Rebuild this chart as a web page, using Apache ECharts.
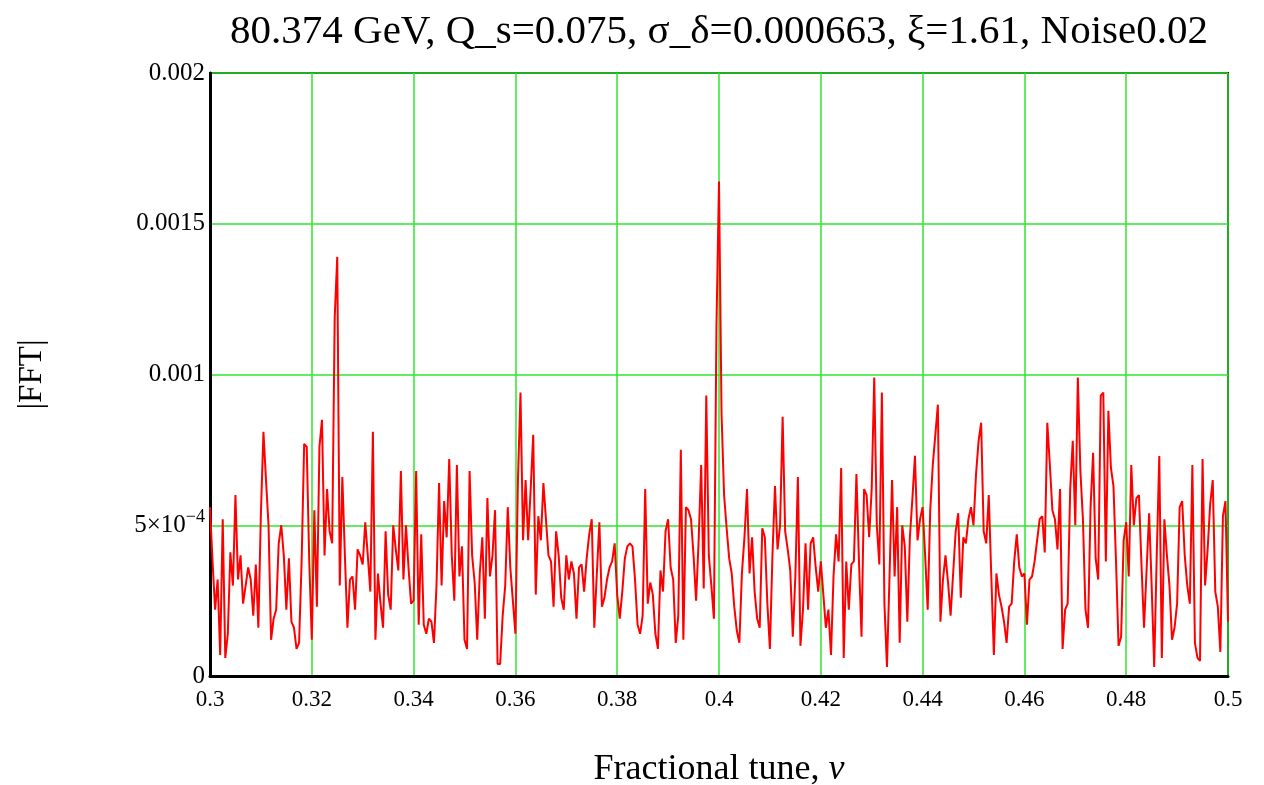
<!DOCTYPE html>
<html>
<head>
<meta charset="utf-8">
<script src="https://cdn.jsdelivr.net/npm/echarts@6/dist/echarts.min.js"></script>
<style>
html,body{margin:0;padding:0;background:#fff;}
#chart{width:1264px;height:785px;}
</style>
</head>
<body>
<div id="chart"></div>
<script>
const tuneStart = 0.3;
const tuneStep = 0.0005;
const fftSeg0 = [5.6,3.8,2.2,3.2,0.7,5.2,0.6,1.4,4.1,3.0,6.0,3.2,4.0,2.4,3.0,3.6,3.2,2.0,3.7,1.6,5.4,8.1,6.5,5.0,1.2,1.9,2.2,4.4,5.0,4.0,2.2,3.9,1.8,1.6,0.9,1.1,3.8,7.7,7.6,3.8];
const fftSeg1 = [1.2,5.5,2.3,7.6,8.5,4.0,6.2,4.8,4.4,11.9,13.9,3.0,6.6,4.0,1.6,3.2,3.3,2.2,4.2,4.0,3.7,5.1,4.0,2.8,8.1,1.2,3.4,2.4,1.6,4.8,2.7,2.2,5.0,4.2,3.5,6.8,3.2,5.0,3.6,2.4];
const fftSeg2 = [2.5,6.8,1.7,4.7,1.7,1.4,1.9,1.8,1.1,3.0,6.4,3.0,5.8,4.6,7.2,4.0,2.5,7.0,3.3,4.3,1.2,0.9,6.8,4.0,3.1,1.2,3.4,4.6,1.9,5.9,3.3,4.0,5.5,0.4,0.4,2.0,3.0,5.6,3.6,2.5];
const fftSeg3 = [1.4,6.5,9.4,4.5,6.5,4.5,6.2,8.0,2.7,5.3,4.5,6.4,5.2,4.0,3.8,2.3,4.8,4.0,2.6,2.2,4.0,3.2,3.8,3.4,1.9,3.6,3.7,2.8,3.9,4.7,5.2,1.6,3.4,5.1,2.3,2.6,3.2,3.6,3.8,4.4];
const fftSeg4 = [2.7,1.9,2.8,3.9,4.3,4.4,4.3,3.2,1.7,1.4,2.0,6.2,2.4,3.1,2.7,1.4,0.9,3.5,2.8,4.8,5.2,3.6,3.2,1.1,2.0,7.5,1.2,5.6,5.5,5.2,4.0,2.5,4.5,7.0,2.9,9.3,4.0,3.0,1.9,11.6];
const fftSeg5 = [16.4,8.7,6.0,4.9,3.9,3.4,2.3,1.5,1.1,3.4,4.6,6.2,3.4,4.6,2.8,1.9,1.6,4.9,4.6,2.4,0.9,4.0,6.3,4.2,5.0,8.6,4.8,4.2,3.5,1.3,3.3,6.6,1.0,2.2,4.4,2.2,4.4,4.6,3.6,2.8];
const fftSeg6 = [3.8,2.7,1.6,2.2,0.7,3.3,4.7,3.8,6.9,0.6,3.8,2.2,3.7,3.8,6.7,3.8,1.3,6.2,6.0,4.6,6.2,9.9,5.0,3.7,9.4,2.4,0.3,3.3,6.5,3.3,5.6,1.1,5.0,4.3,1.8,4.6,5.9,7.3,4.5,5.2];
const fftSeg7 = [5.6,4.0,2.2,5.5,7.0,8.0,9.0,1.8,3.2,4.0,3.1,2.0,3.4,4.8,5.4,2.6,4.6,4.4,5.2,5.6,5.0,6.7,7.8,8.4,4.8,4.4,6.0,3.3,0.7,3.4,2.7,2.3,1.8,1.1,2.3,2.4,3.8,4.7,3.6,3.3];
const fftSeg8 = [3.4,1.7,3.2,3.3,3.8,4.5,5.2,5.3,4.1,8.4,7.0,5.5,5.2,4.2,6.2,0.9,2.2,2.4,6.2,7.8,5.0,9.9,6.8,5.2,2.2,1.6,5.6,7.4,3.9,3.2,9.3,9.4,3.8,8.8,6.9,6.3,3.8,1.0,1.3,4.5];
const fftSeg9 = [5.1,3.3,7.0,5.0,5.9,6.0,3.7,1.6,3.5,5.4,3.0,0.3,4.0,7.3,0.6,5.2,4.0,3.0,1.2,1.6,2.4,5.6,5.8,4.0,3.0,2.4,7.0,1.1,0.6,0.5,7.2,3.0,4.2,5.7,6.5,2.8,2.3,0.8,5.3,5.8,1.8];

const xTicks = [0.3,0.32,0.34,0.36,0.38,0.4,0.42,0.44,0.46,0.48,0.5];
const yTickLabels = {0:'0', 1:'{a|5×10}{s|−4}', 2:'0.001', 3:'0.0015', 4:'0.002'};

const titleText = '80.374 GeV, Q_s=0.075, σ_δ=0.000663, ξ=1.61, Noise0.02';

const allVals = [].concat(fftSeg0,fftSeg1,fftSeg2,fftSeg3,fftSeg4,fftSeg5,fftSeg6,fftSeg7,fftSeg8,fftSeg9);
const seriesData = allVals.map((v,i)=>[+(tuneStart + tuneStep*i).toFixed(4), v*1e-4]);

const SERIF = '"Liberation Serif","DejaVu Serif",serif';
const chart = echarts.init(document.getElementById('chart'));
chart.setOption({
  animation:false,
  backgroundColor:'#fff',
  title:{
    text:titleText,
    left:714, top:7, textAlign:'center',
    textStyle:{fontFamily:SERIF,fontSize:41,fontWeight:'normal',color:'#000'}
  },
  grid:{left:210,right:36,top:73,bottom:109,show:true,borderColor:'#000',borderWidth:2,
    backgroundColor:'transparent',containLabel:false,outerBoundsMode:'none'},
  xAxis:{
    type:'value',min:0.3,max:0.5,interval:0.02,
    name:'{n|Fractional tune, }{i|ν}',
    nameLocation:'middle',nameGap:76,
    nameTextStyle:{rich:{
      n:{fontFamily:SERIF,fontSize:36,color:'#000'},
      i:{fontFamily:SERIF,fontSize:36,fontStyle:'italic',color:'#000'}
    }},
    axisLine:{show:true,onZero:false,lineStyle:{color:'#000',width:3}},
    axisTick:{show:false},
    axisLabel:{fontFamily:SERIF,fontSize:23,color:'#000',margin:12,
      formatter:v=>String(+v.toFixed(2))},
    splitLine:{show:true,lineStyle:{color:'#2ee62e',width:1.5}}
  },
  yAxis:{
    type:'value',min:0,max:0.002,interval:0.0005,
    name:'|FFT|',nameLocation:'middle',nameGap:161,nameRotate:90,
    nameTextStyle:{fontFamily:SERIF,fontSize:33,color:'#000'},
    axisLine:{show:true,onZero:false,lineStyle:{color:'#000',width:3}},
    axisTick:{show:false},
    axisLabel:{fontFamily:SERIF,fontSize:25,color:'#000',margin:5,
      formatter:(v)=>yTickLabels[Math.round(v/0.0005)],
      rich:{
        a:{fontFamily:SERIF,fontSize:25,color:'#000'},
        s:{fontFamily:SERIF,fontSize:18,color:'#000',padding:[0,0,16,0]}
      }},
    splitLine:{show:true,lineStyle:{color:'#2ee62e',width:1.5}}
  },
  series:[{
    type:'line',data:seriesData,symbol:'none',
    lineStyle:{color:'#ff0000',width:2},
    itemStyle:{color:'#ff0000'}
  }]
});
</script>
</body>
</html>
